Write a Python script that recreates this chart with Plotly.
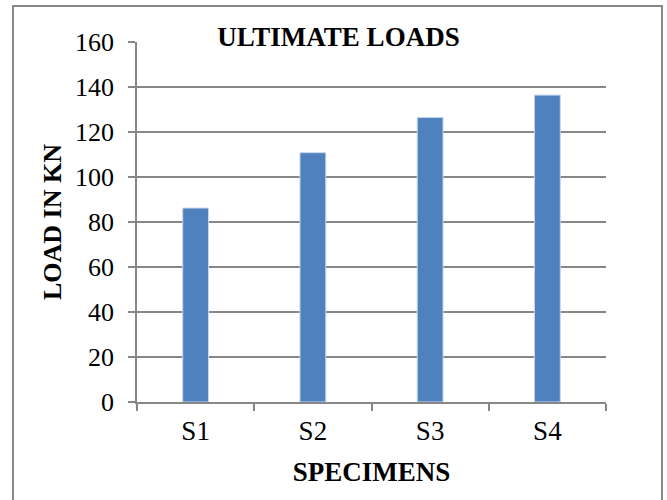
import plotly.graph_objects as go

# Ultimate load per specimen
specimens = ["S1", "S2", "S3", "S4"]
loads_kn = [86.2, 110.8, 126.5, 136.4]
y_ticks = [0, 20, 40, 60, 80, 100, 120, 140, 160]

GRID = "#878787"
BAR = "#4F81BD"
SERIF = "Liberation Serif, Times New Roman, serif"

fig = go.Figure(
    go.Bar(
        x=specimens,
        y=loads_kn,
        width=0.22,
        marker=dict(color=BAR, line=dict(color="#c6d6ec", width=1)),
        showlegend=False,
    )
)

fig.update_layout(
    width=667,
    height=500,
    margin=dict(l=137, r=61, t=42, b=98),
    paper_bgcolor="white",
    plot_bgcolor="white",
    font=dict(family=SERIF, color="black"),
    title=dict(
        text="<b>ULTIMATE LOADS</b>",
        font=dict(family=SERIF, size=27, color="black"),
        xref="container",
        yref="container",
        x=338.5 / 667,
        xanchor="center",
        y=1 - 37 / 500,
        yanchor="middle",
    ),
    bargap=0.78,
)

fig.update_xaxes(
    type="category",
    range=[-0.5, 3.5],
    showline=True,
    linecolor=GRID,
    linewidth=1.5,
    ticks="outside",
    tickson="boundaries",
    ticklen=7,
    tickwidth=1.5,
    tickcolor=GRID,
    tickfont=dict(family=SERIF, size=27, color="black"),
    ticklabelstandoff=4,
    showgrid=False,
    title=dict(
        text="<b>SPECIMENS</b>",
        font=dict(family=SERIF, size=27, color="black"),
        standoff=17,
    ),
)

fig.update_yaxes(
    range=[0, 160],
    tickvals=y_ticks,
    showline=True,
    linecolor=GRID,
    linewidth=1.5,
    ticks="outside",
    ticklen=7,
    tickwidth=1.5,
    tickcolor=GRID,
    tickfont=dict(family=SERIF, size=26, color="black"),
    ticklabelstandoff=9,
    showgrid=True,
    gridcolor=GRID,
    gridwidth=1.5,
    zeroline=False,
    title=dict(
        text="<b>LOAD IN KN</b>",
        font=dict(family=SERIF, size=26, color="black"),
        standoff=6,
    ),
)

# Grey frame around the chart area (open at the bottom edge)
fig.add_shape(
    type="rect",
    xref="paper",
    yref="paper",
    x0=(13 - 137) / 469,
    x1=(662 - 137) / 469,
    y0=(402 - 510) / 360,
    y1=(402 - 6) / 360,
    line=dict(color=GRID, width=2),
    fillcolor="rgba(0,0,0,0)",
    layer="below",
)

fig.write_html("out.html")
